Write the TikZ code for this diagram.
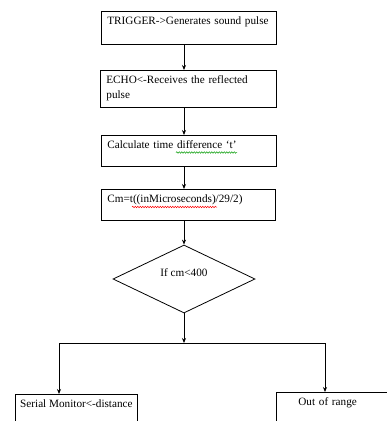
\documentclass[tikz,border=0pt]{standalone}
\usepackage{fontspec}
\setmainfont{Liberation Serif}
\usepackage{tikz}
\usetikzlibrary{shapes.geometric,arrows.meta,decorations.pathmorphing}

\begin{document}
\begin{tikzpicture}[
  x=1pt, y=-1pt,
  font=\fontsize{11.2}{15}\selectfont,
  box/.style={draw, line width=0.8pt, anchor=north west, align=left, inner xsep=6pt, inner ysep=3pt, text height=10.5pt},
  decision/.style={draw, diamond, line width=0.8pt, minimum width=142pt, minimum height=68pt, inner sep=0pt, text height=7.5pt, text depth=12pt},
  arr/.style={-{Stealth[length=5pt,width=4pt]}, line width=0.8pt},
  squig/.style={decorate, decoration={snake, amplitude=0.7pt, segment length=2.5pt}, line width=0.5pt}
]
  \useasboundingbox (0,0) rectangle (387,421);
  \clip (0,0) rectangle (387,421);

  \node[box, text width=163pt, text depth=16.5pt] (trig) at (101,11) {TRIGGER->Generates sound pulse};
  \node[box, text width=164pt, text depth=20.5pt] (echo) at (100,70) {ECHO<-Receives the reflected\\pulse};
  \node[box, text width=163pt, text depth=14.5pt] (calc) at (101,135) {Calculate time difference `t'};
  \node[box, text width=162pt, text depth=14.5pt] (conv) at (101,189) {Cm=t((inMicroseconds)/29/2)};
  \node[decision] (cond) at (184,279) {If cm<400};
  \node[box, inner xsep=3pt, minimum width=122pt, text depth=33.5pt] (serial) at (15,394) {Serial Monitor<-distance};
  \node[box, inner xsep=22pt, text width=100pt, text depth=33.5pt] (range) at (276,392) {Out of range};

  % spell-check underlines
  \draw[squig, green!60!black] (176,152.5) -- (237,152.5);
  \draw[squig, red] (132,207) -- (217,207);

  \coordinate (lft) at (59,343);
  \coordinate (rgt) at (325,343);
  \coordinate (split) at (cond.south |- lft);

  \draw[arr] (trig.south -| cond.north) -- (echo.north -| cond.north);
  \draw[arr] (echo.south -| cond.north) -- (calc.north -| cond.north);
  \draw[arr] (calc.south -| cond.north) -- (conv.north -| cond.north);
  \draw[arr] (conv.south -| cond.north) -- (cond.north);
  \draw[arr] (cond.south) -- (split);
  \draw[line width=0.8pt] (lft) -- (rgt);
  \draw[arr] (lft) -- (lft |- serial.north);
  \draw[arr] (rgt) -- (rgt |- range.north);
\end{tikzpicture}
\end{document}
